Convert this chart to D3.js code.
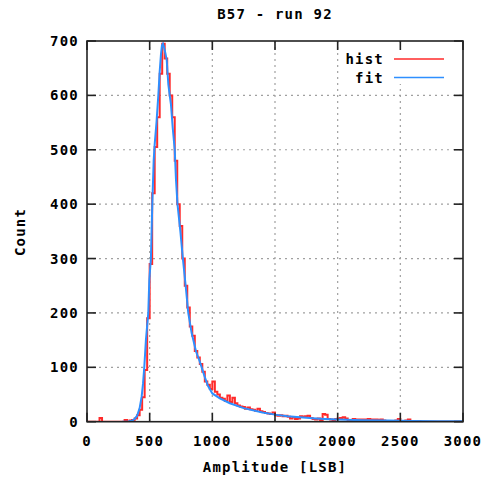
<!DOCTYPE html>
<html><head><meta charset="utf-8">
<script src="https://cdn.jsdelivr.net/npm/d3@7"></script>
<style>
html,body{margin:0;padding:0;background:#fff;}
text{font-family:"DejaVu Sans Mono",monospace;font-weight:bold;font-size:14px;fill:#000;letter-spacing:1.2px;}
</style></head>
<body><svg id="c" width="487" height="480"></svg>
<script>
const title = "B57 - run 92";
const xLabel = "Amplitude [LSB]";
const yLabel = "Count";
const xTicks = [0,500,1000,1500,2000,2500,3000];
const yTicks = [0,100,200,300,400,500,600,700];
const binWidth = 20;
// histogram bin left edges start at 0, width 20
const histCounts = [
 0,0,0,0,0,7,0,0,0,0,            // 0-180
 0,0,0,0,0,3,0,2,3,6,            // 200-380
 12,22,45,95,190,290,420,505,560,640, // 400-580
 695,668,640,600,560,480,400,360,300,250, // 600-780
 210,175,158,130,118,106,92,74,68,60,   // 800-980
 74,55,50,44,42,38,48,36,44,34,         // 1000-1180
 30,28,27,24,26,23,22,20,24,19,         // 1200-1380
 18,16,15,14,17,12,11,12,10,11,         // 1400-1580
 9,6,8,5,6,10,9,10,11,7,                // 1600-1780
 5,4,6,3,14,13,5,4,3,5,                 // 1800-1980
 6,7,8,6,3,2,5,4,4,4,                   // 2000-2180
 4,4,5,4,4,4,3,4,2,1,                   // 2200-2380
 1,1,0,2,5,1,0,2,4,1,                   // 2400-2580
 0,0,1,0,0,0,0,0,0,0,                   // 2600-2780
 0,0,0,0,0,0,0,0,0,0                    // 2800-2980
];
const fitX = [280,330,360,380,400,420,436,447,457,470,489,497,510,521,532,540,555,569,580,590,598,606,615,625,636,649,660,670,684,700,710,722,745,765,785,808,835,870,896,915,940,965,1000,1060,1140,1250,1400,1500,1600,1700,1800,1900,2000,2200,2400,2600,2800,3000];
const fitY = [0,0.5,2,5,11,25,46,70,100,150,200,260,300,400,480,510,552,600,644,675,692,695,688,678,665,620,600,583,540,500,445,400,350,300,255,200,163,129,113,100,82,66,52,43,34,25,17,13,10,8,6.5,5,4,2.8,2,1.4,1,0.7];

const svg = d3.select("#c");
const L=87,R=463,T=41,B=421.7;
const x = d3.scaleLinear().domain([0,3000]).range([L,R]);
const y = d3.scaleLinear().domain([0,700]).range([B,T]);

// grid
const g = svg.append("g");
g.selectAll(".gx").data(xTicks.filter(d=>d>0&&d<3000)).join("line")
 .attr("x1",d=>x(d)).attr("x2",d=>x(d)).attr("y1",T).attr("y2",B)
 .attr("stroke","#a0a0a0").attr("stroke-width",1.2).attr("stroke-dasharray","2,4");
g.selectAll(".gy").data(yTicks.filter(d=>d>0&&d<700)).join("line")
 .attr("x1",L).attr("x2",R).attr("y1",d=>y(d)).attr("y2",d=>y(d))
 .attr("stroke","#a0a0a0").attr("stroke-width",1.2).attr("stroke-dasharray","2,4");

// legend background
svg.append("rect").attr("x",344).attr("y",46).attr("width",112).attr("height",38).attr("fill","#fff");

svg.append("clipPath").attr("id","clp").append("rect").attr("x",L).attr("y",T).attr("width",R-L).attr("height",B-T);

// histogram steps
const hpts = histCounts.map((c,i)=>[i*binWidth,c]);
hpts.push([histCounts.length*binWidth, histCounts[histCounts.length-1]]);
const stepLine = d3.line().x(d=>x(d[0])).y(d=>y(d[1])).curve(d3.curveStepAfter);
svg.append("path").attr("clip-path","url(#clp)").attr("d",stepLine(hpts))
 .attr("fill","none").attr("stroke","#ff2a2a").attr("stroke-width",2);

// fit
const fpts = fitX.map((v,i)=>[v,fitY[i]]);
const fl = d3.line().x(d=>x(d[0])).y(d=>y(d[1]));
svg.append("path").attr("clip-path","url(#clp)").attr("d",fl(fpts))
 .attr("fill","none").attr("stroke","#2e8fff").attr("stroke-width",2);

// border
svg.append("rect").attr("x",L).attr("y",T).attr("width",R-L).attr("height",B-T)
 .attr("fill","none").attr("stroke","#222").attr("stroke-width",1.6);

// ticks
const tk = svg.append("g").attr("stroke","#222").attr("stroke-width",1.6);
xTicks.forEach(d=>{
  tk.append("line").attr("x1",x(d)).attr("x2",x(d)).attr("y1",B).attr("y2",B-9);
  tk.append("line").attr("x1",x(d)).attr("x2",x(d)).attr("y1",T).attr("y2",T+9);
});
yTicks.forEach(d=>{
  tk.append("line").attr("x1",L).attr("x2",L+9).attr("y1",y(d)).attr("y2",y(d));
  tk.append("line").attr("x1",R).attr("x2",R-9).attr("y1",y(d)).attr("y2",y(d));
});

// tick labels
svg.selectAll(".xl").data(xTicks).join("text")
 .attr("x",d=>x(d)).attr("y",446).attr("text-anchor","middle").text(d=>d);
svg.selectAll(".yl").data(yTicks).join("text")
 .attr("x",79).attr("y",d=>y(d)+5).attr("text-anchor","end").text(d=>d);

// titles
svg.append("text").attr("x",275).attr("y",19).attr("text-anchor","middle").text(title);
svg.append("text").attr("x",275).attr("y",472).attr("text-anchor","middle").text(xLabel);
svg.append("text").attr("transform","translate(25,232) rotate(-90)").attr("text-anchor","middle").text(yLabel);

// legend
const legend = [{name:"hist",color:"#ff2a2a"},{name:"fit",color:"#2e8fff"}];
legend.forEach((d,i)=>{
  const yy = 59 + i*18.5;
  svg.append("text").attr("x",384).attr("y",yy+5).attr("text-anchor","end").text(d.name);
  svg.append("line").attr("x1",394).attr("x2",444).attr("y1",yy).attr("y2",yy)
   .attr("stroke",d.color).attr("stroke-width",1.6);
});
</script></body></html>
